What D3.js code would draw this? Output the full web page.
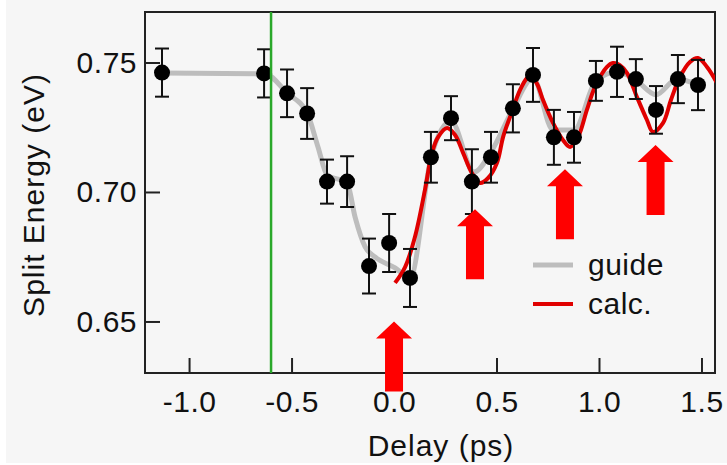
<!DOCTYPE html>
<html>
<head>
<meta charset="utf-8">
<script src="https://d3js.org/d3.v7.min.js"></script>
<style>
  body { margin: 0; background: #ffffff; }
  text { font-family: "Liberation Sans", Arial, sans-serif; fill: #111; }
</style>
</head>
<body>
<div class="split_chart"></div>
<script>
// measured points (delay in ps, split energy in eV, error bar half height)
var delay = [-1.132, -0.634, -0.522, -0.424, -0.327, -0.229, -0.122, -0.024, 0.078,
  0.180, 0.278, 0.380, 0.473, 0.580, 0.678, 0.780, 0.878, 0.985, 1.088, 1.180, 1.278, 1.385, 1.483];
var energy = [0.7461, 0.7458, 0.7381, 0.7303, 0.7040, 0.7040, 0.6714, 0.6803, 0.6668,
  0.7134, 0.7285, 0.7040, 0.7134, 0.7323, 0.7452, 0.7211, 0.7211, 0.7429, 0.7464, 0.7436, 0.7317, 0.7436, 0.7413];
var errBar = [0.0093, 0.0093, 0.0092, 0.0098, 0.0085, 0.0098, 0.0106, 0.0112, 0.0112,
  0.0098, 0.0085, 0.0125, 0.0098, 0.0093, 0.0104, 0.0106, 0.0098, 0.0077, 0.0097, 0.0077, 0.0092, 0.0093, 0.0097];

// grey guide line
var guideX = [-1.132, -0.629, -0.522, -0.424, -0.371, -0.327, -0.229, -0.190, -0.141, -0.093, 0.005, 0.078,
  0.180, 0.278, 0.390, 0.473, 0.580, 0.678, 0.776, 0.878, 0.985, 1.088, 1.180, 1.278, 1.380, 1.483];
var guideY = [0.7459, 0.7456, 0.7382, 0.7305, 0.7174, 0.7066, 0.7035, 0.6903, 0.6788, 0.6749, 0.6707, 0.6668,
  0.7131, 0.7274, 0.7077, 0.7154, 0.7320, 0.7440, 0.7239, 0.7239, 0.7429, 0.7463, 0.7432, 0.7375, 0.7436, 0.7413];

// red calculated curve
var calcX = [0.005, 0.054, 0.102, 0.151, 0.185, 0.215, 0.259, 0.298, 0.337, 0.380, 0.420, 0.459, 0.502, 0.532,
  0.566, 0.615, 0.649, 0.668, 0.698, 0.727, 0.776, 0.824, 0.859, 0.898, 0.941, 0.980, 1.039, 1.068, 1.102,
  1.137, 1.185, 1.234, 1.263, 1.312, 1.351, 1.395, 1.444, 1.483, 1.527, 1.576];
var calcY = [0.6649, 0.6710, 0.6826, 0.7008, 0.7151, 0.7212, 0.7247, 0.7220, 0.7151, 0.7073, 0.7035, 0.7054,
  0.7112, 0.7212, 0.7290, 0.7394, 0.7440, 0.7448, 0.7417, 0.7355, 0.7266, 0.7201, 0.7174, 0.7212, 0.7317,
  0.7405, 0.7483, 0.7498, 0.7490, 0.7459, 0.7367, 0.7278, 0.7232, 0.7266, 0.7355, 0.7444, 0.7502, 0.7517,
  0.7483, 0.7421];

// green marker line and the red arrows (x, tip energy)
var pumpX = -0.6;
var arrowX = [0.0, 0.395, 0.834, 1.276];
var arrowTip = [0.650, 0.6933, 0.7088, 0.7181];

var xTicks = [-1.0, -0.5, 0.0, 0.5, 1.0, 1.5];
var yTicks = [0.65, 0.70, 0.75];
var legendLabels = ["guide", "calc."];
var legendColors = ["#bdbdbd", "#e00000"];

var svgWidth = 727;
var svgHeight = 465;

var margin = {
  top: 12,
  right: 12,
  bottom: 92,
  left: 145
};

var width = svgWidth - margin.left - margin.right;
var height = svgHeight - margin.top - margin.bottom;

var svg = d3.select(".split_chart")
  .append("svg")
  .attr("width", svgWidth)
  .attr("height", svgHeight);

// page background
svg.append("rect")
  .attr("x", 6)
  .attr("y", 0)
  .attr("width", svgWidth - 6)
  .attr("height", svgHeight - 2)
  .attr("fill", "#f6f6f6");

var chartGroup = svg.append("g")
  .attr("transform", `translate(${margin.left}, ${margin.top})`);

var xScale = d3.scaleLinear()
  .domain([-1.215, 1.566])
  .range([0, width]);

var yScale = d3.scaleLinear()
  .domain([0.6301, 0.7695])
  .range([height, 0]);

chartGroup.append("clipPath")
  .attr("id", "plotClip")
  .append("rect")
  .attr("width", width)
  .attr("height", height);

// axes with inward ticks
var xAxis = chartGroup.append("g")
  .attr("transform", `translate(0,${height})`)
  .call(d3.axisBottom(xScale).tickValues(xTicks).tickFormat(d => d.toFixed(1))
    .tickSizeInner(-15).tickSizeOuter(0).tickPadding(18));

var yAxis = chartGroup.append("g")
  .call(d3.axisLeft(yScale).tickValues(yTicks).tickFormat(d => d.toFixed(2))
    .tickSizeInner(-15).tickSizeOuter(0).tickPadding(8));

[xAxis, yAxis].forEach(function (ax) {
  ax.select(".domain").remove();
  ax.selectAll("line").attr("stroke", "#222").attr("stroke-width", 2);
  ax.selectAll("text")
    .style("font-size", "30px")
    .style("letter-spacing", "0.5px")
    .attr("fill", "#111");
});

// frame
chartGroup.append("rect")
  .attr("width", width)
  .attr("height", height)
  .attr("fill", "none")
  .attr("stroke", "#222")
  .attr("stroke-width", 2);

var plotGroup = chartGroup.append("g")
  .attr("clip-path", "url(#plotClip)");

var guideLine = d3.line()
  .x(d => xScale(d[0]))
  .y(d => yScale(d[1]))
  .curve(d3.curveMonotoneX);

var calcLine = d3.line()
  .x(d => xScale(d[0]))
  .y(d => yScale(d[1]))
  .curve(d3.curveCatmullRom);

plotGroup.append("path")
  .datum(d3.zip(guideX, guideY))
  .attr("d", guideLine)
  .attr("fill", "none")
  .attr("stroke", legendColors[0])
  .attr("stroke-width", 5);

plotGroup.append("path")
  .datum(d3.zip(calcX, calcY))
  .attr("d", calcLine)
  .attr("fill", "none")
  .attr("stroke", legendColors[1])
  .attr("stroke-width", 4);

// error bars
var points = d3.zip(delay, energy, errBar);

var bars = plotGroup.selectAll(".err")
  .data(points)
  .enter()
  .append("g")
  .attr("class", "err")
  .attr("stroke", "#111")
  .attr("stroke-width", 2);

bars.append("line")
  .attr("x1", d => xScale(d[0]))
  .attr("x2", d => xScale(d[0]))
  .attr("y1", d => yScale(d[1] - d[2]))
  .attr("y2", d => yScale(d[1] + d[2]));

[-1, 1].forEach(function (s) {
  bars.append("line")
    .attr("x1", d => xScale(d[0]) - 7)
    .attr("x2", d => xScale(d[0]) + 7)
    .attr("y1", d => yScale(d[1] + s * d[2]))
    .attr("y2", d => yScale(d[1] + s * d[2]));
});

plotGroup.selectAll(".pt")
  .data(points)
  .enter()
  .append("circle")
  .attr("class", "pt")
  .attr("cx", d => xScale(d[0]))
  .attr("cy", d => yScale(d[1]))
  .attr("r", 8)
  .attr("fill", "#000");

// green time-zero line
plotGroup.append("line")
  .attr("x1", xScale(pumpX))
  .attr("x2", xScale(pumpX))
  .attr("y1", 0)
  .attr("y2", height)
  .attr("stroke", "#2aa82a")
  .attr("stroke-width", 2.5);

// legend
var legend = chartGroup.selectAll(".legend")
  .data(legendLabels)
  .enter()
  .append("g")
  .attr("class", "legend")
  .attr("transform", (d, i) => `translate(${533 - margin.left}, ${265 - margin.top + i * 39})`);

legend.append("line")
  .attr("x1", 0)
  .attr("x2", 40)
  .attr("stroke", (d, i) => legendColors[i])
  .attr("stroke-width", (d, i) => i == 0 ? 5 : 4);

legend.append("text")
  .attr("x", 55)
  .attr("y", 10)
  .style("font-size", "30px")
  .style("letter-spacing", "0.5px")
  .text(d => d);

// red arrows, drawn over the axis
var arrowPath = "M0,0 L18,17 L9,17 L9,70 L-9,70 L-9,17 L-18,17 Z";

chartGroup.selectAll(".arrow")
  .data(d3.zip(arrowX, arrowTip))
  .enter()
  .append("path")
  .attr("class", "arrow")
  .attr("transform", d => `translate(${xScale(d[0])},${yScale(d[1])})`)
  .attr("d", arrowPath)
  .attr("fill", "#ff0000");

// axis titles
svg.append("text")
  .attr("x", 441)
  .attr("y", 456)
  .attr("text-anchor", "middle")
  .style("font-size", "30px")
  .style("letter-spacing", "1px")
  .text("Delay (ps)");

svg.append("text")
  .attr("transform", "translate(44, 195) rotate(-90)")
  .attr("text-anchor", "middle")
  .style("font-size", "30px")
  .style("letter-spacing", "1px")
  .text("Split Energy (eV)");
</script>
</body>
</html>
